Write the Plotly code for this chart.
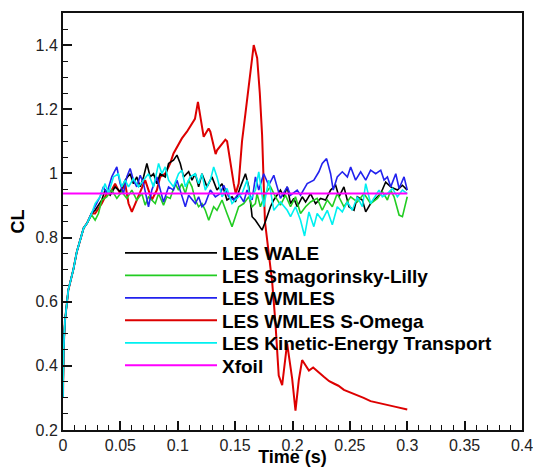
import plotly.graph_objects as go

# ---- data: (time [s], CL) ----
start = [(0.0, 0.30), (0.0005, 0.45), (0.0017, 0.54), (0.0046, 0.636), (0.009, 0.70),
         (0.012, 0.755), (0.018, 0.83), (0.021, 0.845), (0.025, 0.876)]

wale = start + [
    (0.028, 0.885), (0.0338, 0.917), (0.0367, 0.948), (0.0411, 0.932), (0.0454, 0.958),
    (0.0498, 0.943), (0.0542, 0.979), (0.0585, 0.999), (0.0614, 0.968), (0.0643, 0.989),
    (0.0673, 0.958), (0.0702, 0.989), (0.0731, 1.031), (0.076, 0.989), (0.0789, 0.999),
    (0.0818, 0.968), (0.0847, 0.999), (0.0891, 0.989), (0.092, 1.031), (0.0963, 1.041),
    (0.0993, 1.057), (0.1022, 1.031), (0.1051, 0.989), (0.1095, 1.005), (0.1124, 0.979),
    (0.1153, 0.999), (0.1182, 0.958), (0.1211, 0.999), (0.1255, 0.958), (0.1298, 0.989),
    (0.1342, 0.948), (0.1386, 0.968), (0.1429, 0.917), (0.1473, 0.927), (0.1502, 0.911),
    (0.1546, 0.958), (0.159, 0.999), (0.1619, 0.958), (0.1648, 0.865), (0.1677, 0.854),
    (0.1706, 0.84), (0.1735, 0.823), (0.1764, 0.85), (0.1808, 0.896), (0.1837, 0.917),
    (0.1895, 0.948), (0.1924, 0.927), (0.1954, 0.958), (0.1983, 0.906), (0.2012, 0.922),
    (0.2041, 0.896), (0.2085, 0.927), (0.2114, 0.911), (0.2157, 0.937), (0.2201, 0.906),
    (0.2245, 0.922), (0.2288, 0.917), (0.2332, 0.948), (0.2376, 0.963), (0.2405, 0.927),
    (0.2448, 0.958), (0.2492, 0.896), (0.2536, 0.885), (0.2565, 0.927), (0.2609, 0.917),
    (0.2638, 0.88), (0.2681, 0.906), (0.2725, 0.922), (0.2769, 0.937), (0.2812, 0.973),
    (0.2856, 0.958), (0.2914, 0.948), (0.2958, 0.963), (0.3, 0.948)]

smagorinsky = start[:-1] + [
    (0.025, 0.87), (0.028, 0.854), (0.0309, 0.875), (0.0338, 0.917), (0.0381, 0.927),
    (0.0425, 0.948), (0.0469, 0.922), (0.0512, 0.943), (0.0556, 0.922), (0.06, 0.948),
    (0.0643, 0.917), (0.0687, 0.937), (0.0716, 0.901), (0.0745, 0.927), (0.0774, 0.917),
    (0.0804, 0.906), (0.0833, 0.937), (0.0876, 0.901), (0.0905, 0.927), (0.0934, 0.922),
    (0.0978, 0.968), (0.1007, 0.948), (0.1036, 0.968), (0.1066, 0.937), (0.1095, 0.979),
    (0.1124, 0.958), (0.1153, 0.917), (0.1182, 0.896), (0.1211, 0.906), (0.124, 0.885),
    (0.127, 0.854), (0.1313, 0.896), (0.1342, 0.885), (0.1386, 0.917), (0.1429, 0.875),
    (0.1473, 0.834), (0.1502, 0.865), (0.1531, 0.896), (0.1575, 0.906), (0.1619, 0.927),
    (0.1648, 0.896), (0.1677, 0.906), (0.1691, 0.937), (0.172, 0.896), (0.1764, 0.937),
    (0.1808, 0.958), (0.1852, 0.927), (0.1895, 0.901), (0.1939, 0.932), (0.1983, 0.896),
    (0.2026, 0.927), (0.207, 0.875), (0.2114, 0.896), (0.2157, 0.911), (0.2215, 0.922),
    (0.2259, 0.885), (0.2303, 0.917), (0.2347, 0.896), (0.239, 0.937), (0.2448, 0.896),
    (0.2507, 0.927), (0.2565, 0.911), (0.2623, 0.937), (0.2681, 0.906), (0.274, 0.922),
    (0.2783, 0.943), (0.2827, 0.917), (0.2856, 0.948), (0.2885, 0.927), (0.2929, 0.870),
    (0.2958, 0.865), (0.3, 0.927)]

wmles = start + [
    (0.028, 0.896), (0.0323, 0.927), (0.0352, 0.958), (0.0381, 0.937), (0.0425, 0.989),
    (0.0469, 1.020), (0.0498, 0.968), (0.0527, 0.937), (0.0556, 0.989), (0.0585, 1.015),
    (0.0614, 0.979), (0.0643, 0.958), (0.0673, 0.994), (0.0702, 0.968), (0.0745, 0.896),
    (0.0774, 0.948), (0.0818, 0.989), (0.0847, 0.948), (0.0876, 0.911), (0.092, 0.958),
    (0.0963, 0.948), (0.0993, 0.979), (0.1022, 0.948), (0.1066, 0.896), (0.1095, 0.932),
    (0.1124, 0.917), (0.1153, 0.906), (0.1182, 0.927), (0.1211, 0.896), (0.124, 0.906),
    (0.1284, 0.948), (0.1328, 0.927), (0.1371, 0.937), (0.14, 0.963), (0.1444, 0.927),
    (0.1487, 0.917), (0.1531, 0.937), (0.1575, 0.911), (0.1604, 0.948), (0.1648, 0.917),
    (0.1677, 0.989), (0.1706, 0.948), (0.1749, 0.999), (0.1793, 0.963), (0.1837, 0.994),
    (0.1895, 0.922), (0.1954, 0.958), (0.1983, 0.932), (0.2041, 0.948), (0.207, 0.932),
    (0.2128, 0.968), (0.2186, 0.979), (0.223, 1.005), (0.2259, 1.031), (0.2297, 1.046),
    (0.2332, 0.999), (0.2355, 0.948), (0.239, 0.989), (0.2434, 1.005), (0.2478, 0.989),
    (0.2507, 1.020), (0.255, 0.979), (0.2594, 1.005), (0.2638, 0.979), (0.2681, 1.010),
    (0.2725, 0.999), (0.2769, 1.010), (0.2798, 0.979), (0.2827, 0.989), (0.2856, 0.958),
    (0.29, 0.999), (0.2929, 0.953), (0.2972, 0.989), (0.3, 0.948)]

wmles_somega = start + [
    (0.028, 0.875), (0.0338, 0.906), (0.0381, 0.937), (0.0425, 0.948), (0.0454, 0.968),
    (0.0498, 0.937), (0.0542, 0.968), (0.0571, 0.906), (0.06, 0.880), (0.0643, 0.917),
    (0.0687, 0.958), (0.0716, 0.979), (0.0745, 0.948), (0.0774, 0.917), (0.0818, 0.948),
    (0.0847, 0.989), (0.0891, 0.999), (0.0934, 1.031), (0.0963, 1.062), (0.1007, 1.093),
    (0.1036, 1.109), (0.108, 1.13), (0.1124, 1.155), (0.115, 1.17), (0.1176, 1.223),
    (0.1226, 1.114), (0.1269, 1.14), (0.1284, 1.13), (0.133, 1.06), (0.1342, 1.072),
    (0.1415, 1.105), (0.143, 1.10), (0.1488, 0.968), (0.1505, 0.937), (0.1531, 0.968),
    (0.156, 1.10), (0.159, 1.187), (0.1604, 1.228), (0.1662, 1.40), (0.1692, 1.36),
    (0.1715, 1.25), (0.1735, 1.12), (0.176, 0.85), (0.179, 0.76), (0.1823, 0.66),
    (0.185, 0.54), (0.188, 0.37), (0.191, 0.34), (0.1953, 0.47), (0.1997, 0.36),
    (0.2026, 0.26), (0.2055, 0.356), (0.2084, 0.418), (0.2143, 0.385), (0.218, 0.395),
    (0.2273, 0.366), (0.232, 0.352), (0.236, 0.345), (0.240, 0.338), (0.2448, 0.325),
    (0.250, 0.318), (0.2565, 0.309), (0.262, 0.300), (0.268, 0.290), (0.275, 0.285),
    (0.2827, 0.278), (0.290, 0.272), (0.3, 0.264)]

ket = start + [
    (0.028, 0.906), (0.0323, 0.927), (0.0367, 0.968), (0.0396, 0.937), (0.044, 0.989),
    (0.0483, 0.999), (0.0512, 0.958), (0.0542, 0.979), (0.0571, 0.958), (0.0614, 0.984),
    (0.0658, 0.958), (0.0702, 0.979), (0.0745, 0.999), (0.0789, 0.958), (0.0833, 1.031),
    (0.0862, 0.999), (0.0891, 1.020), (0.092, 0.979), (0.0963, 0.958), (0.1007, 0.999),
    (0.1036, 1.010), (0.1066, 0.958), (0.1109, 0.989), (0.1153, 0.999), (0.1182, 0.968),
    (0.1211, 0.999), (0.124, 0.948), (0.1284, 0.979), (0.1313, 1.020), (0.1342, 0.989),
    (0.1386, 0.927), (0.1429, 0.953), (0.1473, 0.906), (0.1502, 0.917), (0.156, 0.937),
    (0.1604, 0.979), (0.1633, 0.917), (0.1677, 0.948), (0.1706, 1.005), (0.1749, 0.896),
    (0.1793, 0.979), (0.1837, 0.885), (0.1895, 0.911), (0.1954, 0.885), (0.1983, 0.865),
    (0.2026, 0.896), (0.207, 0.854), (0.2105, 0.805), (0.2143, 0.880), (0.2186, 0.834),
    (0.2215, 0.875), (0.2259, 0.854), (0.2303, 0.885), (0.2347, 0.84), (0.239, 0.896),
    (0.2434, 0.880), (0.2478, 0.911), (0.2521, 0.885), (0.2565, 0.927), (0.2609, 0.896),
    (0.2638, 0.968), (0.2681, 0.906), (0.2725, 0.932), (0.2754, 0.948), (0.2783, 0.927),
    (0.2827, 0.937), (0.2871, 0.953), (0.2914, 0.927), (0.2958, 0.948), (0.3, 0.937)]

xfoil_t = [0.0, 0.3]
xfoil_cl = [0.937, 0.937]

names = ["LES WALE", "LES Smagorinsky-Lilly", "LES WMLES", "LES WMLES S-Omega",
         "LES Kinetic-Energy Transport", "Xfoil"]
colors = ["#000000", "#22cc22", "#2222ee", "#dd0000", "#00f0f0", "#ff00ff"]
widths = [1.6, 1.6, 1.6, 2.0, 1.6, 2.0]

series = [wale, smagorinsky, wmles, wmles_somega, ket]

# figure fills the window (page body margin removed in post_script)
W, H = 533, 467
ML, MR, MT, MB = 63, 11, 13, 37
PW, PH = W - ML - MR, H - MT - MB
legend_left_px = 120
legend_row_px = [253, 275.5, 298, 320.5, 343, 365.5]

legend_key = ["legend", "legend2", "legend3", "legend4", "legend5", "legend6"]

fig = go.Figure()
draw_order = [3, 0, 1, 2, 4]
for i in draw_order:
    t, cl = zip(*series[i])
    fig.add_trace(go.Scatter(x=list(t), y=list(cl), mode="lines",
                             name="<b>%s</b>" % names[i], showlegend=True,
                             line=dict(color=colors[i], width=widths[i]),
                             legend=legend_key[i]))
fig.add_trace(go.Scatter(x=xfoil_t, y=xfoil_cl, mode="lines", name="<b>%s</b>" % names[5],
                         showlegend=True,
                         line=dict(color=colors[5], width=widths[5]), legend=legend_key[5]))

axis_common = dict(showline=True, linewidth=2, linecolor="#111", mirror=True,
                   showgrid=False, ticks="inside", tickcolor="#111",
                   tickwidth=1.5, ticklen=9, automargin=False, ticklabeloverflow="allow",
                   tickfont=dict(family="Liberation Sans, Arial", size=16, color="#222"))

fig.update_xaxes(range=[0, 0.4], tick0=0, dtick=0.05,
                 zeroline=True, zerolinecolor="#00f0f0", zerolinewidth=2,
                 minor=dict(dtick=0.01, ticks="inside", ticklen=5, tickcolor="#111", tickwidth=1),
                 title=dict(text="<b>Time (s)</b>", standoff=3,
                            font=dict(family="Liberation Sans, Arial", size=18, color="#000")),
                 **axis_common)
fig.update_yaxes(range=[0.2, 1.5], tick0=0.2, dtick=0.2, zeroline=False,
                 minor=dict(dtick=0.05, ticks="inside", ticklen=5, tickcolor="#111", tickwidth=1),
                 title=dict(text="<b>CL</b>", standoff=6,
                            font=dict(family="Liberation Sans, Arial", size=18, color="#000")),
                 **axis_common)

legend_layout = {}
for k, key in enumerate(legend_key):
    legend_layout[key] = dict(
        x=(legend_left_px - ML) / PW, y=(H - MB - legend_row_px[k]) / PH,
        xanchor="left", yanchor="middle",
        bgcolor="rgba(0,0,0,0)", borderwidth=0, itemwidth=92,
        font=dict(family="Liberation Sans, Arial", size=19, color="#000"))

fig.update_layout(
    width=W, height=H, showlegend=True,
    margin=dict(l=ML, r=MR, t=MT, b=MB),
    plot_bgcolor="white", paper_bgcolor="white",
    font=dict(family="Liberation Sans, Arial", size=16, color="#000"),
    **legend_layout,
)

fig.write_html("out.html", config={"displayModeBar": False},
               post_script="document.body.style.margin='0';document.body.style.overflow='hidden';")
